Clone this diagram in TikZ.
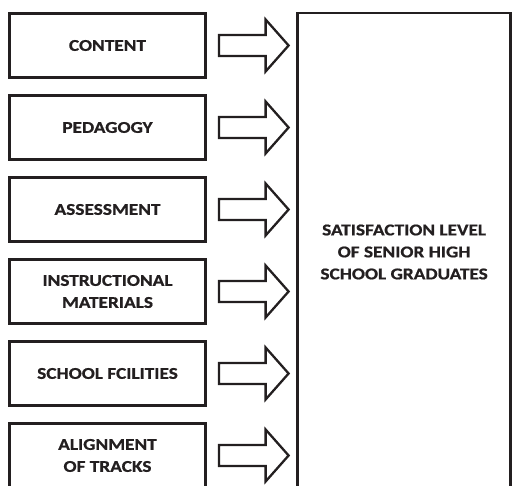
\documentclass[tikz,border=0pt]{standalone}
\usepackage{fontspec}
\setmainfont{Carlito}[FakeStretch=1.17, BoldFeatures={FakeBold=0.8}]
\usetikzlibrary{calc}
\definecolor{ink}{HTML}{231F20}

% block arrow from a factor box towards the outcome box
\newcommand\inflow[1]{%
  \draw[flow] let \p1=(#1.east), \p2=(sat.west) in
    (\x1+13.4pt,\y1+10.5pt) -- (\x2-32pt,\y1+10.5pt) -- (\x2-32pt,\y1+26pt)
    -- (\x2-9pt,\y1) -- (\x2-32pt,\y1-26pt) -- (\x2-32pt,\y1-10.5pt)
    -- (\x1+13.4pt,\y1-10.5pt) -- cycle;}

\begin{document}
\begin{tikzpicture}[x=1pt,y=-1pt,
  label text/.style={font=\fontsize{16.5}{22}\selectfont\bfseries, text=ink, align=center},
  factor/.style={label text, draw=ink, line width=2.8pt, minimum width=196.2pt,
    minimum height=64.2pt, inner sep=0pt, outer sep=0pt},
  outcome/.style={label text, draw=ink, line width=2.5pt, minimum width=213pt,
    minimum height=478pt, inner sep=0pt, outer sep=0pt},
  flow/.style={draw=ink, line width=2.3pt, line join=miter}]
\useasboundingbox (0,0) rectangle (512,486);
\clip (0,0) rectangle (512,486);

% outcome box (runs past the right and lower edges)
\node[outcome] (sat) at (404.1,252) {SATISFACTION LEVEL\\OF SENIOR HIGH\\SCHOOL GRADUATES};

% factor boxes
\node[factor] (f1) at (107.5,45.5)  {CONTENT};
\node[factor] (f2) at (107.5,127.5) {PEDAGOGY};
\node[factor] (f3) at (107.5,209.5) {ASSESSMENT};
\node[factor] (f4) at (107.5,291.5) {INSTRUCTIONAL\\MATERIALS};
\node[factor] (f5) at (107.5,373.5) {SCHOOL FCILITIES};
\node[factor] (f6) at (107.5,455.5) {ALIGNMENT\\OF TRACKS};

% arrows into the outcome box
\foreach \f in {f1,f2,f3,f4,f5,f6} {\inflow{\f}}
\end{tikzpicture}
\end{document}
